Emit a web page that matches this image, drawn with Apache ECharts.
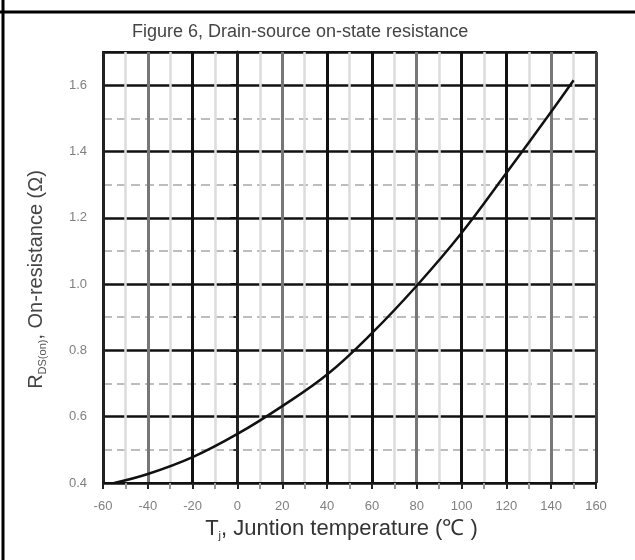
<!DOCTYPE html>
<html>
<head>
<meta charset="utf-8">
<title>Drain-source on-state resistance</title>
<script src="https://cdn.jsdelivr.net/npm/echarts@6/dist/echarts.min.js"></script>
<style>
  html, body { margin: 0; padding: 0; background: #fff; }
  #main { width: 635px; height: 560px; }
</style>
</head>
<body>
<div id="main"></div>
<script>
// curve: junction temperature (°C) -> R_DS(on) (ohm)
var tempC = [-55, -40, -20, 0, 20, 40, 60, 80, 100, 120, 140, 150];
var rdsOn = [0.40, 0.427, 0.478, 0.548, 0.632, 0.727, 0.852, 0.995, 1.154, 1.335, 1.52, 1.615];

var xTicks = [-60, -40, -20, 0, 20, 40, 60, 80, 100, 120, 140, 160];
var yTicks = [0.4, 0.6, 0.8, 1.0, 1.2, 1.4, 1.6];

// every third vertical line shows up grey in the scan
var vLineColors = ['#222', '#777', '#111', '#111', '#777', '#111', '#111', '#777', '#111', '#111', '#777', '#444'];

var chart = echarts.init(document.getElementById('main'));

var points = tempC.map(function (t, i) { return [t, rdsOn[i]]; });

var option = {
    backgroundColor: '#fff',
    animation: false,
    title: {
        text: 'Figure 6, Drain-source on-state resistance',
        left: 127,
        top: 18,
        textStyle: {
            fontFamily: 'Liberation Sans',
            fontSize: 18,
            fontWeight: 'normal',
            color: '#444'
        }
    },
    grid: {
        left: 103,
        right: 39,
        top: 52,
        bottom: 77,
        show: true,
        borderColor: '#222',
        borderWidth: 2
    },
    xAxis: {
        type: 'value',
        min: xTicks[0],
        max: xTicks[xTicks.length - 1],
        interval: 20,
        name: '{t|T}{sub|j}{t|, Juntion temperature (℃ )}',
        nameLocation: 'middle',
        nameGap: 26,
        nameTextStyle: {
            padding: [0, 16, 0, 0],
            rich: {
                t: { fontFamily: 'Liberation Sans', fontSize: 22, color: '#333', lineHeight: 26 },
                sub: { fontFamily: 'Liberation Sans', fontSize: 11, color: '#333', verticalAlign: 'bottom', lineHeight: 26 }
            }
        },
        axisLine: { show: true, onZero: false, lineStyle: { color: '#111', width: 2 } },
        axisTick: { show: true, inside: false, length: 6, lineStyle: { color: '#222', width: 2 } },
        minorTick: { show: true, splitNumber: 2, length: 6, lineStyle: { color: '#999', width: 2 } },
        axisLabel: {
            margin: 17,
            fontFamily: 'Liberation Sans',
            fontSize: 13,
            color: '#808080'
        },
        splitLine: { show: true, lineStyle: { color: vLineColors, width: 3 } },
        minorSplitLine: { show: true, lineStyle: { color: '#dcdcdc', width: 2.5 } }
    },
    yAxis: {
        type: 'value',
        min: yTicks[0],
        max: 1.7,
        interval: 0.2,
        name: '{t|R}{sub|DS(on)}{t|, On-resistance (Ω)}',
        nameLocation: 'middle',
        nameRotate: 90,
        nameGap: 55,
        nameTextStyle: {
            padding: [0, 24, 0, 0],
            rich: {
                t: { fontFamily: 'Liberation Sans', fontSize: 20, color: '#444', lineHeight: 24 },
                sub: { fontFamily: 'Liberation Sans', fontSize: 11, color: '#555', verticalAlign: 'bottom', lineHeight: 24 }
            }
        },
        axisLine: { show: true, lineStyle: { color: '#222', width: 3 } },
        axisTick: { show: true, inside: false, length: 7, lineStyle: { color: '#111', width: 2 } },
        minorTick: { show: true, splitNumber: 2, length: 4, lineStyle: { color: '#333', width: 2 } },
        axisLabel: {
            margin: 16,
            showMaxLabel: false,
            fontFamily: 'Liberation Sans',
            fontSize: 13,
            color: '#808080',
            formatter: function (v) { return v.toFixed(1); }
        },
        splitLine: { show: true, lineStyle: { color: '#111', width: 2.5 } },
        minorSplitLine: { show: true, lineStyle: { color: '#bdbdbd', width: 2, type: [9, 5] } }
    },
    series: [{
        type: 'line',
        data: points,
        smooth: 0.4,
        showSymbol: false,
        lineStyle: { color: '#111', width: 2.5 }
    }],
    graphic: [
        { type: 'line', shape: { x1: 3, y1: 0, x2: 3, y2: 560 }, style: { stroke: '#000', lineWidth: 3 } },
        { type: 'line', shape: { x1: 0, y1: 12, x2: 635, y2: 12 }, style: { stroke: '#000', lineWidth: 3 } }
    ]
};

chart.setOption(option);
</script>
</body>
</html>
